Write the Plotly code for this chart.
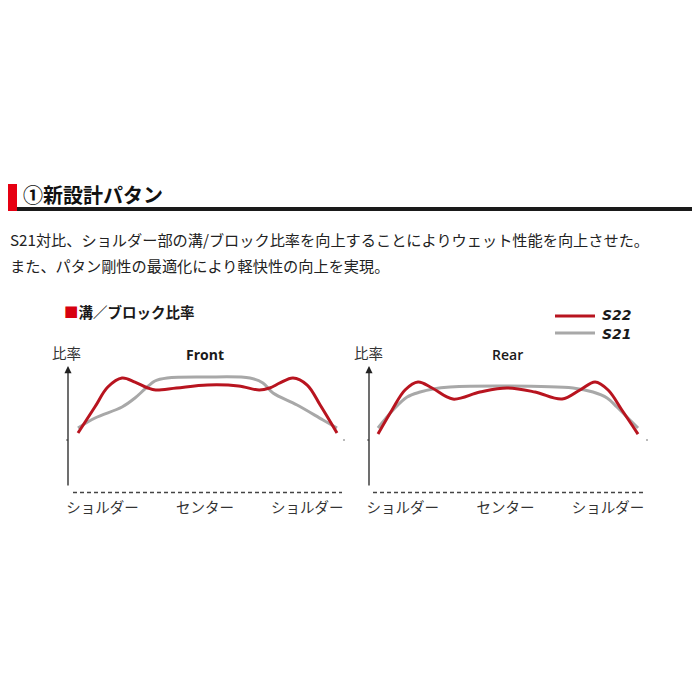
import plotly.graph_objects as go

# ---------------- data ----------------
# x: position across the tread (0 = left shoulder, 100 = right shoulder)
# y: groove / block ratio (arbitrary units)
front_s22_x = [0, 6.5, 11.5, 17, 22, 27, 30, 38, 50, 62, 70, 74, 78, 83, 88.5, 93.5, 100]
front_s22_y = [45.4, 67.2, 84.0, 91.6, 88.2, 83.2, 81.5, 83.2, 85.7, 84.9, 81.5, 83.2, 87.4, 91.6, 85.7, 68.9, 45.4]
front_s21_x = [0, 6.6, 17, 22, 25.9, 29.7, 34.4, 49, 66.4, 71.4, 75.3, 84.6, 94.6, 100]
front_s21_y = [49.6, 58.0, 67.2, 74.8, 82.4, 89.1, 91.6, 92.4, 91.6, 87.4, 79.0, 68.9, 56.3, 49.6]

rear_s22_x = [0, 5.4, 10.4, 15.4, 20.8, 28.8, 39.2, 49.6, 60.4, 70.8, 77.7, 83.5, 88.5, 93.8, 100]
rear_s22_y = [44.5, 64.7, 81.5, 88.2, 83.2, 73.9, 79.8, 83.2, 79.8, 73.9, 81.5, 88.2, 81.5, 64.7, 44.5]
rear_s21_x = [0, 5.8, 11.2, 16.2, 21.2, 27.7, 49.6, 75.0, 82.7, 88.1, 91.9, 96.9, 100]
rear_s21_y = [49.6, 64.7, 75.6, 79.8, 82.4, 84.0, 84.9, 83.2, 79.8, 74.8, 67.2, 56.3, 49.6]

series_names = ["S22", "S21"]
panel_titles = ["Front", "Rear"]
tick_positions = [9.5, 49, 88.5]
tick_labels = ["ショルダー", "センター", "ショルダー"]

title_text = "①新設計パタン"
desc_lines = [
    "S21対比、ショルダー部の溝/ブロック比率を向上することによりウェット性能を向上させた。",
    "また、パタン剛性の最適化により軽快性の向上を実現。",
]
chart_heading = "溝／ブロック比率"
y_label = "比率"

# ---------------- styles ----------------
RED = "#b8141f"
GRAY = "#a8a8a8"
JP = "Noto Sans CJK JP"
OFF = 8            # page body margin of the html page
W = H = 700 - OFF  # figure size so that it fills the window exactly


def px(x):
    return (x - OFF) / W


def py(y):
    return 1 - (y - OFF) / H


fig = go.Figure()

for name, color, xs, ys in [
    (series_names[1], GRAY, front_s21_x, front_s21_y),
    (series_names[0], RED, front_s22_x, front_s22_y),
]:
    fig.add_trace(go.Scatter(x=xs, y=ys, mode="lines", name=name, showlegend=False,
                             line=dict(color=color, width=3, shape="spline", smoothing=1.0),
                             xaxis="x", yaxis="y", hoverinfo="skip"))
for name, color, xs, ys in [
    (series_names[1], GRAY, rear_s21_x, rear_s21_y),
    (series_names[0], RED, rear_s22_x, rear_s22_y),
]:
    fig.add_trace(go.Scatter(x=xs, y=ys, mode="lines", name=name, showlegend=False,
                             line=dict(color=color, width=3, shape="spline", smoothing=1.0),
                             xaxis="x2", yaxis="y2", hoverinfo="skip"))

ax_common = dict(showgrid=False, zeroline=False, showline=False, ticks="", fixedrange=True)
tick_font = dict(family=JP, size=14.5, color="#333333")
fig.update_layout(
    width=W, height=H,
    margin=dict(l=0, r=0, t=0, b=0),
    paper_bgcolor="white", plot_bgcolor="rgba(0,0,0,0)",
    xaxis=dict(domain=[px(65.05), px(349.95)], range=[-5, 105], tickvals=tick_positions,
               ticktext=tick_labels, tickfont=tick_font, ticklabelstandoff=10, **ax_common),
    yaxis=dict(domain=[py(487), py(368)], range=[0, 100], showticklabels=False, **ax_common),
    xaxis2=dict(domain=[px(365), px(651)], range=[-5, 105], tickvals=tick_positions,
                ticktext=tick_labels, tickfont=tick_font, ticklabelstandoff=10, anchor="y2", **ax_common),
    yaxis2=dict(domain=[py(487), py(368)], range=[0, 100], showticklabels=False, anchor="x2", **ax_common),
    showlegend=False,
)

shapes = [
    # header block and rule
    dict(type="rect", xref="paper", yref="paper", x0=px(OFF), x1=px(17), y0=py(211), y1=py(184),
         fillcolor="#e60012", line_width=0),
    dict(type="rect", xref="paper", yref="paper", x0=px(17), x1=1, y0=py(211), y1=py(207),
         fillcolor="#1a1a1a", line_width=0),
    # legend samples
    dict(type="line", xref="paper", yref="paper", x0=px(555), x1=px(595), y0=py(316), y1=py(316),
         line=dict(color=RED, width=3)),
    dict(type="line", xref="paper", yref="paper", x0=px(555), x1=px(595), y0=py(333), y1=py(333),
         line=dict(color=GRAY, width=3)),
]
for x0, x1, axx in [(73, 342, 68), (373, 645, 369)]:
    shapes.append(dict(type="line", xref="paper", yref="paper", x0=px(x0), x1=px(x1), y0=py(492.5), y1=py(492.5),
                       line=dict(color="#444444", width=1.3, dash="4px,3px")))
    shapes.append(dict(type="line", xref="paper", yref="paper", x0=px(axx - 2), x1=px(axx), y0=py(440), y1=py(440),
                       line=dict(color="#555555", width=1)))
    shapes.append(dict(type="line", xref="paper", yref="paper", x0=px(x1 + 1), x1=px(x1 + 3), y0=py(440), y1=py(440),
                       line=dict(color="#777777", width=1)))
fig.update_layout(shapes=shapes)

legend_font = dict(family="DejaVu Sans", size=14, color="#1a1a1a", weight="bold", style="italic")
ann = [
    dict(x=px(21), y=py(194), text=f"<b>{title_text}</b>", xanchor="left", yanchor="middle",
         font=dict(family=JP, size=20, color="#111111")),
    dict(x=px(OFF), y=py(239), text=desc_lines[0], xanchor="left", yanchor="middle",
         font=dict(family=JP, size=15.2, color="#222222")),
    dict(x=px(OFF), y=py(265), text=desc_lines[1], xanchor="left", yanchor="middle",
         font=dict(family=JP, size=15.2, color="#222222")),
    dict(x=px(62), y=py(311), text=f"<span style='color:#d7000f'>■</span><b>{chart_heading}</b>",
         xanchor="left", yanchor="middle", font=dict(family=JP, size=14.5, color="#1a1a1a")),
    dict(x=px(601), y=py(315), text=series_names[0], xanchor="left", yanchor="middle", font=legend_font,
         borderpad=0),
    dict(x=px(601), y=py(334), text=series_names[1], xanchor="left", yanchor="middle", font=legend_font,
         borderpad=0),
]
for lx, cx, title, weight in [(50, 205, panel_titles[0], "bold"), (352, 507, panel_titles[1], 600)]:
    ann.append(dict(x=px(lx), y=py(352), text=y_label, xanchor="left", yanchor="middle",
                    font=dict(family=JP, size=14.5, color="#333333")))
    ann.append(dict(x=px(cx), y=py(355), text=title, xanchor="center", yanchor="middle",
                    font=dict(family="Open Sans", size=14, color="#1a1a1a", weight=weight)))
for axx in [68, 369]:
    ann.append(dict(x=px(axx), y=py(366), ax=0, ay=121, axref="pixel", ayref="pixel", text="",
                    showarrow=True, arrowhead=2, arrowsize=1.1, arrowwidth=1.3, arrowcolor="#222222"))
for a in ann:
    a.setdefault("xref", "paper")
    a.setdefault("yref", "paper")
    a.setdefault("showarrow", False)
fig.update_layout(annotations=ann)

fig.write_html("out.html")
